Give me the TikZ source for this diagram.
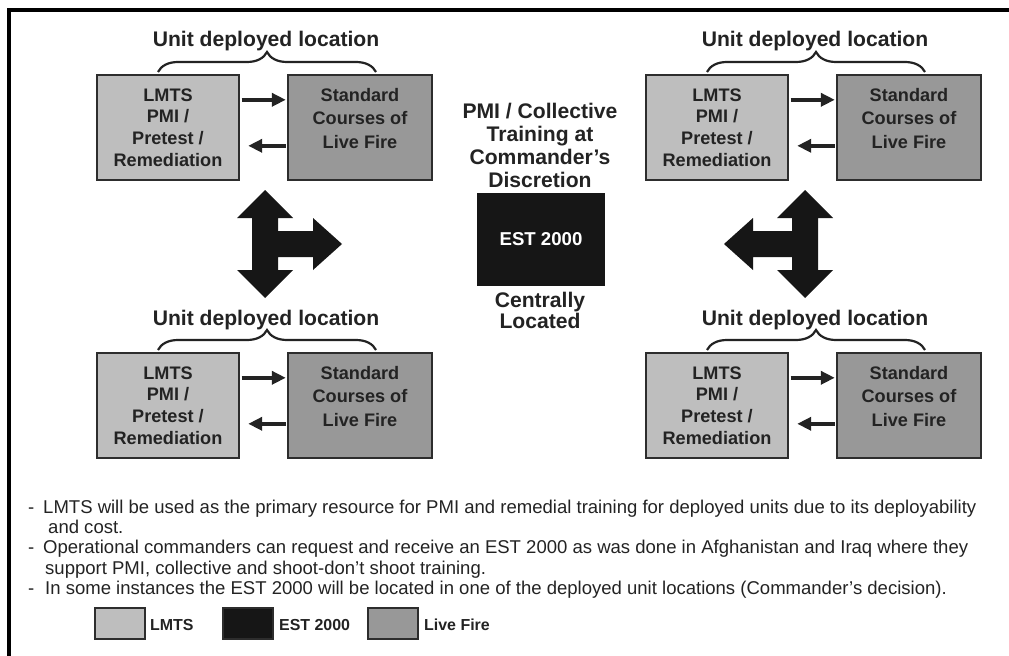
\documentclass[tikz,border=0pt]{standalone}
\usepackage{fontspec}
\setmainfont{Liberation Sans}
\usetikzlibrary{decorations.pathreplacing,arrows.meta,calc}
\definecolor{lmtsgray}{RGB}{190,190,190}
\definecolor{firegray}{RGB}{152,152,152}
\definecolor{edgegray}{RGB}{45,45,45}
\definecolor{inkgray}{RGB}{35,35,35}
\definecolor{estblack}{RGB}{22,22,22}
\tikzset{
 lmtsbox/.style={draw=edgegray, line width=2.4bp, fill=lmtsgray, inner sep=0pt, minimum width=142bp, minimum height=105bp},
 firebox/.style={draw=edgegray, line width=2.4bp, fill=firegray, inner sep=0pt, minimum width=144bp, minimum height=105bp},
 boxtext/.style={align=center, inner sep=0pt, text=inkgray, font=\fontsize{18.2}{21.7}\selectfont\bfseries},
 firetext/.style={align=center, inner sep=0pt, text=inkgray, font=\fontsize{18.2}{23.5}\selectfont\bfseries},
 lbl/.style={inner sep=0pt, text=inkgray, font=\fontsize{21.2}{23.3}\selectfont\bfseries, align=center},
 flow/.style={line width=3.6bp, draw=inkgray, -{Triangle[length=14bp,width=13bp]}},
 bracket/.style={draw=inkgray, line width=2.2bp, decorate, decoration={brace, amplitude=20bp}},
 bullet/.style={inner sep=0pt, anchor=base west, text=inkgray, font=\fontsize{18.6}{20}\selectfont},
 legtext/.style={inner sep=0pt, anchor=base west, text=inkgray, font=\fontsize{16}{19}\selectfont\bfseries},
 legbox/.style={draw=edgegray, line width=2.2bp, inner sep=0pt, minimum width=50bp, minimum height=31bp},
 bigarrow/.style={fill=estblack, draw=none},
}
\newcommand\unitgroup[3]{%
\begin{scope}[shift={(#2,#3)}]
\node[lmtsbox] (#1l) at (168,127.5) {};
\node[firebox] (#1s) at (360,127.5) {};
\node[boxtext] (#1lt) at (#1l.center) {LMTS\\PMI /\\Pretest /\\Remediation};
\node[firetext] (#1st) at ([yshift=9bp]#1s.center) {Standard\\Courses of\\Live Fire};
\coordinate (#1ba) at (158,72);
\coordinate (#1bb) at (376,72);
\draw[bracket] (#1ba) -- (#1bb);
\node[lbl, anchor=base] (#1lab) at (266,47) {Unit deployed location};
\draw[flow] ([xshift=1.5bp,yshift=-26bp]#1l.north east) -- ([xshift=-1bp,yshift=-26bp]#1s.north west);
\draw[flow, shorten >=7bp] ([xshift=-1bp,yshift=-72bp]#1s.north west) -- ([xshift=1bp,yshift=-72bp]#1l.north east);
\end{scope}}
\begin{document}
\begin{tikzpicture}[x=1bp,y=-1bp]
\useasboundingbox (0,0) rectangle (1009,656);
\fill[white] (0,0) rectangle (1009,656);
% frame
\coordinate (fbl) at (8.5,656);
\coordinate (ftl) at (8.5,10);
\coordinate (ftr) at (1009,10);
\draw[line width=4bp] (fbl) -- (ftl) -- (ftr);
% groups
\unitgroup{a}{0}{0}
\unitgroup{b}{549}{0}
\unitgroup{c}{0}{278}
\unitgroup{d}{549}{278}
% crosses
\begin{scope}[shift={(265,244)}]
\fill[bigarrow] (0,-54) -- (28,-26) -- (13,-26) -- (13,-13) -- (48,-13) -- (48,-26) -- (77,0) -- (48,26) -- (48,13) -- (13,13) -- (13,26) -- (28,26) -- (0,54) -- (-28,26) -- (-13,26) -- (-13,-26) -- (-28,-26) -- cycle;
\end{scope}
\begin{scope}[shift={(805,244)}, xscale=-1]
\fill[bigarrow] (0,-54) -- (28,-26) -- (13,-26) -- (13,-13) -- (52,-13) -- (52,-26) -- (81,0) -- (52,26) -- (52,13) -- (13,13) -- (13,26) -- (28,26) -- (0,54) -- (-28,26) -- (-13,26) -- (-13,-26) -- (-28,-26) -- cycle;
\end{scope}
% centre
\node[lbl] (ctop) at (540,145.5) {PMI / Collective\\Training at\\Commander’s\\Discretion};
\node[fill=estblack, inner sep=0pt, minimum width=128bp, minimum height=93bp, text=white, font=\fontsize{18.7}{22}\selectfont\bfseries] (est) at (541,239.5) {EST 2000};
\node[lbl, font=\fontsize{21.2}{21.5}\selectfont\bfseries] (cbot) at (540,310.5) {Centrally\\Located};
% bullets
\node[bullet] (b1d) at (28,513) {-};
\node[bullet] (b1) at (43,513) {LMTS will be used as the primary resource for PMI and remedial training for deployed units due to its deployability};
\node[bullet] (b1c) at (48,533) {and cost.};
\node[bullet] (b2d) at (28,553) {-};
\node[bullet] (b2) at (43,553) {Operational commanders can request and receive an EST 2000 as was done in Afghanistan and Iraq where they};
\node[bullet] (b2c) at (45,574) {support PMI, collective and shoot-don’t shoot training.};
\node[bullet] (b3d) at (28,594) {-};
\node[bullet] (b3) at (45,594) {In some instances the EST 2000 will be located in one of the deployed unit locations (Commander’s decision).};
% legend
\node[legbox, fill=lmtsgray] (k1) at (120,623.5) {};
\node[legtext] (k1t) at (150,630) {LMTS};
\node[legbox, fill=estblack] (k2) at (248,623.5) {};
\node[legtext] (k2t) at (279,630) {EST 2000};
\node[legbox, fill=firegray] (k3) at (393,623.5) {};
\node[legtext] (k3t) at (424,630) {Live Fire};
\end{tikzpicture}
\end{document}
